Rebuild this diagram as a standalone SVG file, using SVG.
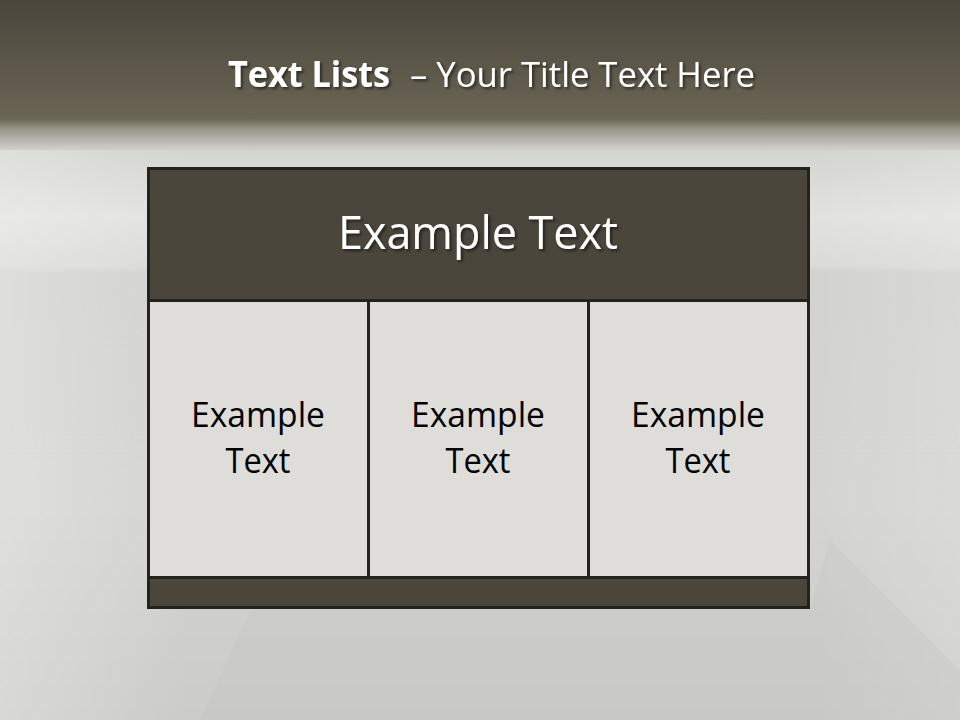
<svg xmlns="http://www.w3.org/2000/svg" width="960" height="720" viewBox="0 0 960 720">
<defs>
<style>
.t{font-family:"Open Sans","Noto Sans",sans-serif}
.hd{fill:#ffffff;font-size:46px}
.cl{fill:#000000;font-size:34px}
.ttl{fill:#ffffff;font-size:35px}
.dark{fill:#4a463c;stroke:#24221d;stroke-width:3}
.light{fill:#deddd9;stroke:#24221d;stroke-width:3}
</style>
<linearGradient id="bg" x1="0" y1="0" x2="0" y2="1">
<stop offset="0" stop-color="#4a463c"/>
<stop offset="0.165" stop-color="#6a6554"/>
<stop offset="0.18" stop-color="#9a978c"/>
<stop offset="0.21" stop-color="#d4d4d0"/>
<stop offset="0.3" stop-color="#e2e3e0"/>
<stop offset="0.37" stop-color="#dadad7"/>
<stop offset="0.38" stop-color="#d2d3d0"/>
<stop offset="0.7" stop-color="#d4d4d1"/>
<stop offset="1" stop-color="#cbcbc8"/>
</linearGradient>
<linearGradient id="side" x1="0" y1="0" x2="1" y2="0">
<stop offset="0" stop-color="#ffffff" stop-opacity="0.25"/>
<stop offset="0.2" stop-color="#ffffff" stop-opacity="0"/>
<stop offset="0.85" stop-color="#ffffff" stop-opacity="0"/>
<stop offset="1" stop-color="#ffffff" stop-opacity="0.15"/>
</linearGradient>
<filter id="sh" x="-10%" y="-20%" width="120%" height="140%">
<feDropShadow dx="2" dy="2" stdDeviation="1.5" flood-color="#000" flood-opacity="0.55"/>
</filter>
</defs>
<rect x="0" y="0" width="960" height="720" fill="url(#bg)"/>
<rect x="0" y="150" width="960" height="570" fill="url(#side)"/>
<polygon points="250,610 810,610 830,540 960,670 960,720 200,720" fill="#bdbdb9" opacity="0.2"/>
<g id="title">
<text class="t ttl" x="228" y="87" font-weight="bold" textLength="162" lengthAdjust="spacingAndGlyphs" filter="url(#sh)">Text Lists</text>
<text class="t ttl" x="410" y="87" textLength="345" lengthAdjust="spacingAndGlyphs" filter="url(#sh)">– Your Title Text Here</text>
</g>
<g id="connectors"/>
<g id="header">
<rect class="dark" x="148.5" y="168.5" width="660" height="132"/>
<text class="t hd" x="478" y="249" text-anchor="middle" textLength="280" lengthAdjust="spacingAndGlyphs" filter="url(#sh)">Example Text</text>
</g>
<g id="cell1">
<rect class="light" x="148.5" y="300.5" width="220" height="277"/>
<text class="t cl" x="258" y="427" text-anchor="middle" textLength="134" lengthAdjust="spacingAndGlyphs">Example</text>
<text class="t cl" x="258" y="473" text-anchor="middle" textLength="65" lengthAdjust="spacingAndGlyphs">Text</text>
</g>
<g id="cell2">
<rect class="light" x="368.5" y="300.5" width="220" height="277"/>
<text class="t cl" x="478" y="427" text-anchor="middle" textLength="134" lengthAdjust="spacingAndGlyphs">Example</text>
<text class="t cl" x="478" y="473" text-anchor="middle" textLength="65" lengthAdjust="spacingAndGlyphs">Text</text>
</g>
<g id="cell3">
<rect class="light" x="588.5" y="300.5" width="220" height="277"/>
<text class="t cl" x="698" y="427" text-anchor="middle" textLength="134" lengthAdjust="spacingAndGlyphs">Example</text>
<text class="t cl" x="698" y="473" text-anchor="middle" textLength="65" lengthAdjust="spacingAndGlyphs">Text</text>
</g>
<g id="footer">
<rect class="dark" x="148.5" y="577.5" width="660" height="30"/>
</g>
</svg>
